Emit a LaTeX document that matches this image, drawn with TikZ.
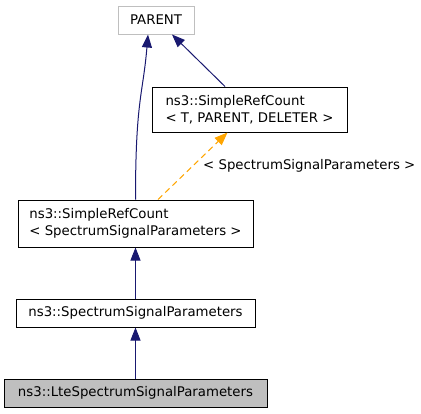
\documentclass[tikz,border=0pt]{standalone}
\usepackage{fontspec}
\setmainfont{DejaVu Sans}
\usetikzlibrary{arrows.meta,calc}
\definecolor{edgeblue}{HTML}{191970}
\definecolor{boxgray}{HTML}{BFBFBF}
\definecolor{tmplorange}{HTML}{FFA500}
\begin{document}
\begin{tikzpicture}[x=1pt,y=-1pt,
  every node/.style={font=\fontsize{13.3}{17}\selectfont},
  cls/.style={draw=black, line width=1pt, rectangle, inner sep=0pt, align=left},
  arr/.style={draw=edgeblue, line width=1pt, -{Triangle[length=13pt,width=10pt]}},
  tarr/.style={draw=tmplorange, line width=1pt, dashed, dash pattern=on 6pt off 4pt, -{Triangle[length=13pt,width=10pt]}}]
\useasboundingbox (0,0) rectangle (421,413);
\node[cls, draw=boxgray, minimum width=76pt, minimum height=28pt] (parent) at (156,20) {PARENT};
\node[cls, minimum width=195pt, minimum height=45pt] (srct) at (249.5,109.5) {ns3::SimpleRefCount\\< T, PARENT, DELETER >};
\node[cls, minimum width=235pt, minimum height=47pt] (srcs) at (135.5,223.5) {ns3::SimpleRefCount\\< SpectrumSignalParameters >};
\node[cls, minimum width=239pt, minimum height=28pt] (ssp) at (135.5,313) {ns3::SpectrumSignalParameters};
\node[cls, fill=boxgray, minimum width=263pt, minimum height=28pt] (lte) at (135.5,393) {ns3::LteSpectrumSignalParameters};
\draw[arr] (lte.north) -- (ssp.south);
\draw[arr] (ssp.north) -- (srcs.south);
\draw[arr] (srcs.north) .. controls ($(srcs.north)+(0,-100)$) and ($(parent.south)+(-13,60)$) .. ([xshift=-8pt]parent.south);
\draw[arr] ([xshift=-24.5pt]srct.north) -- ([xshift=16pt]parent.south);
\draw[tarr] ([xshift=22.5pt]srcs.north) -- ([xshift=-22pt]srct.south);
\node[anchor=west, inner sep=0pt] (lbl) at (203,166) {< SpectrumSignalParameters >};
\end{tikzpicture}
\end{document}
